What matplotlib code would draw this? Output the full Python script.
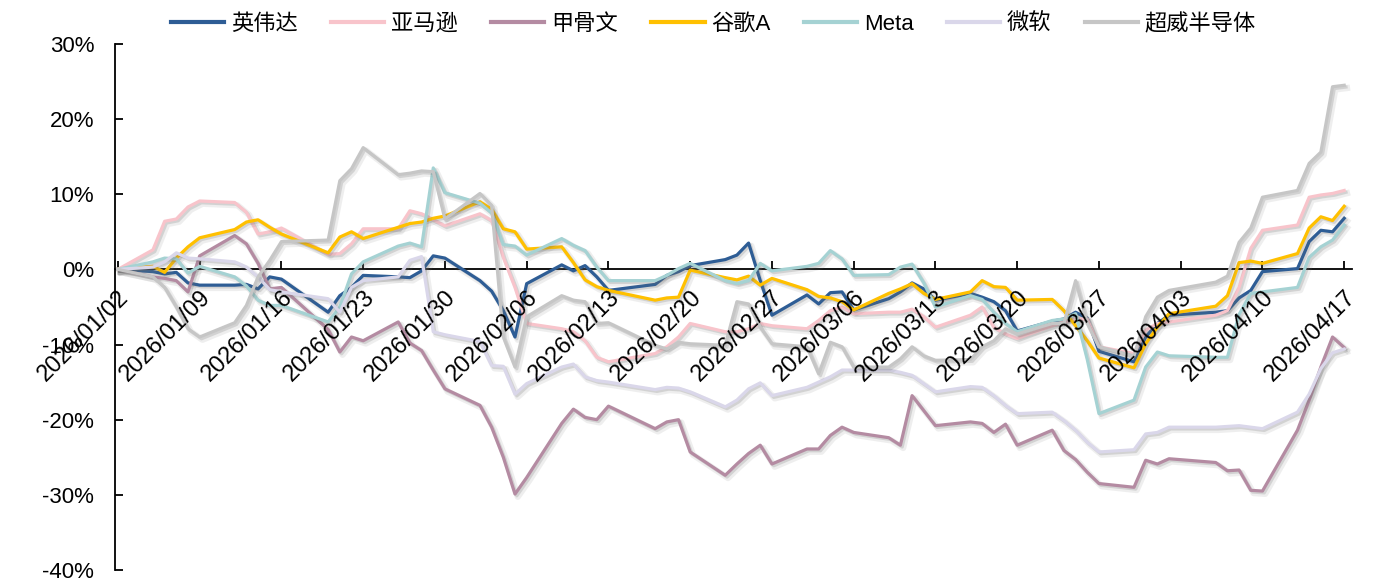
import matplotlib
matplotlib.use('Agg')
import matplotlib.pyplot as plt
import matplotlib.patheffects as pe
from matplotlib.lines import Line2D
import pandas as pd

plt.rcParams['font.family'] = ['Liberation Sans', 'Noto Sans CJK SC']

dates = [
    '2026-01-02', '2026-01-05', '2026-01-06', '2026-01-07', '2026-01-08', '2026-01-09',
    '2026-01-12', '2026-01-13', '2026-01-14', '2026-01-15', '2026-01-16',
    '2026-01-20', '2026-01-21', '2026-01-22', '2026-01-23',
    '2026-01-26', '2026-01-27', '2026-01-28', '2026-01-29', '2026-01-30',
    '2026-02-02', '2026-02-03', '2026-02-04', '2026-02-05', '2026-02-06',
    '2026-02-09', '2026-02-10', '2026-02-11', '2026-02-12', '2026-02-13',
    '2026-02-17', '2026-02-18', '2026-02-19', '2026-02-20',
    '2026-02-23', '2026-02-24', '2026-02-25', '2026-02-26', '2026-02-27',
    '2026-03-02', '2026-03-03', '2026-03-04', '2026-03-05', '2026-03-06',
    '2026-03-09', '2026-03-10', '2026-03-11', '2026-03-12', '2026-03-13',
    '2026-03-16', '2026-03-17', '2026-03-18', '2026-03-19', '2026-03-20',
    '2026-03-23', '2026-03-24', '2026-03-25', '2026-03-26', '2026-03-27',
    '2026-03-30', '2026-03-31', '2026-04-01', '2026-04-02',
    '2026-04-06', '2026-04-07', '2026-04-08', '2026-04-09', '2026-04-10',
    '2026-04-13', '2026-04-14', '2026-04-15', '2026-04-16', '2026-04-17',
]

# cumulative return, %
nvda = [0, -0.3, -0.6, -0.4, -1.8, -2.1,
        -2.1, -2.0, -2.6, -1.0, -1.3,
        -5.7, -3.5, -2.4, -0.8,
        -1.0, -1.1, -0.2, 1.8, 1.5,
        -1.5, -2.9, -5.5, -9.0, -1.9,
        0.6, -0.2, 0.5, -1.0, -2.8,
        -2.0, -0.8, -0.3, 0.5,
        1.3, 1.9, 3.5, -1.5, -6.1,
        -3.4, -4.6, -3.1, -3.0, -5.4,
        -3.9, -3.0, -1.8, -2.6, -4.1,
        -3.2, -3.7, -4.3, -5.5, -8.2,
        -6.9, -6.6, -5.7, -6.5, -10.9,
        -12.3, -9.0, -7.2, -6.1,
        -5.7, -5.5, -3.8, -2.8, -0.3,
        0.1, 3.7, 5.2, 5.0, 6.8]
amzn = [0, 2.6, 6.4, 6.7, 8.3, 9.1,
        8.9, 7.6, 4.7, 5.0, 5.5,
        2.0, 2.1, 3.4, 5.4,
        5.4, 7.8, 7.4, 6.6, 5.8,
        7.4, 6.5, 1.6, -2.4, -7.2,
        -7.9, -8.3, -9.5, -11.7, -12.3,
        -11.2, -10.3, -9.0, -7.2,
        -8.3, -8.3, -7.9, -7.2, -7.5,
        -7.9, -6.8, -5.5, -5.0, -5.9,
        -5.7, -5.7, -5.3, -6.3, -7.7,
        -6.1, -5.0, -7.7, -8.6, -9.2,
        -7.5, -7.0, -6.6, -6.6, -10.3,
        -11.2, -8.1, -7.2, -7.0,
        -6.1, -5.5, -2.4, 2.8, 5.2,
        5.9, 9.6, 9.9, 10.1, 10.5]
orcl = [0, -1.0, -1.2, -1.5, -3.0, 1.8,
        4.5, 3.4, 0.8, -2.6, -2.4,
        -8.0, -11.0, -9.0, -9.5,
        -7.0, -9.8, -10.8, -13.4, -15.9,
        -18.1, -21.0, -25.0, -29.9, -27.7,
        -20.5, -18.6, -19.7, -20.0, -18.2,
        -21.2, -20.3, -20.0, -24.3,
        -27.4, -25.9, -24.5, -23.4, -25.9,
        -23.9, -23.9, -22.1, -21.0, -21.7,
        -22.4, -23.4, -16.8, -18.8, -20.8,
        -20.3, -20.5, -21.7, -20.6, -23.4,
        -21.4, -24.1, -25.3, -27.0, -28.5,
        -29.0, -25.4, -25.9, -25.2,
        -25.7, -26.8, -26.7, -29.4, -29.5,
        -21.4, -17.4, -13.0, -9.0, -10.4]
googl = [0, 0.4, -0.4, 1.5, 3.0, 4.2,
         5.3, 6.3, 6.6, 5.6, 4.7,
         2.2, 4.3, 5.0, 4.1,
         5.6, 6.1, 6.3, 6.8, 7.1,
         9.0, 8.0, 5.4, 5.0, 2.7,
         3.0, 0.9, -1.4, -2.3, -2.8,
         -4.1, -3.8, -3.7, -0.1,
         -1.1, -1.4, -0.9, -2.1, -1.2,
         -2.7, -3.6, -3.8, -4.3, -5.4,
         -3.2, -2.6, -1.9, -3.2, -4.0,
         -3.0, -1.5, -2.3, -2.4, -4.1,
         -4.0, -5.5, -7.5, -9.5, -11.8,
         -13.1, -9.9, -7.7, -5.9,
         -4.9, -3.5, 0.9, 1.1, 0.8,
         2.1, 5.5, 7.0, 6.5, 8.4]
meta = [0, 1.0, 1.5, 1.4, -0.5, 0.4,
        -1.0, -2.2, -4.1, -4.8, -4.8,
        -7.0, -5.0, -0.6, 1.0,
        3.1, 3.5, 3.0, 13.5, 10.2,
        8.8, 7.5, 3.3, 3.1, 1.9,
        4.1, 3.2, 2.5, 0.3, -1.5,
        -1.5, -0.8, 0.1, 0.8,
        -1.5, -1.9, -1.5, 0.8, -0.2,
        0.4, 0.8, 2.5, 1.4, -0.8,
        -0.7, 0.3, 0.7, -1.8, -5.0,
        -3.5, -4.0, -5.7, -7.2, -8.3,
        -6.8, -6.6, -5.9, -12.0, -19.2,
        -17.4, -13.0, -11.0, -11.5,
        -11.7, -11.7, -6.0, -3.2, -3.0,
        -2.4, 1.6, 3.0, 3.9, 5.9]
msft = [0, 0.3, 1.0, 2.2, 1.5, 1.4,
        1.0, 0.3, -1.0, -2.7, -3.0,
        -3.9, -5.7, -2.4, -1.5,
        -1.0, 1.2, 1.7, -8.3, -8.7,
        -9.6, -12.8, -12.9, -16.6, -15.2,
        -13.0, -12.6, -14.3, -14.8, -15.0,
        -16.0, -15.7, -15.8, -16.3,
        -18.3, -17.4, -15.9, -15.1, -16.8,
        -15.7, -15.0, -14.3, -13.4, -13.4,
        -13.4, -13.7, -14.1, -15.2, -16.3,
        -15.6, -15.7, -16.8, -18.1, -19.2,
        -19.0, -20.1, -21.4, -23.0, -24.3,
        -24.0, -21.9, -21.7, -21.0,
        -21.0, -20.9, -20.8, -21.0, -21.2,
        -19.0, -16.6, -13.2, -11.1, -10.6]
amd = [0, -1.0, -2.4, -5.0, -7.9, -9.0,
       -7.1, -4.8, -1.0, 1.2, 3.7,
       3.9, 11.8, 13.4, 16.2,
       12.6, 12.8, 13.1, 13.0, 6.7,
       10.1, 8.5, -9.0, -13.0, -6.3,
       -3.5, -4.1, -4.3, -7.2, -7.1,
       -10.1, -10.6, -9.7, -9.9,
       -10.1, -4.3, -4.6, -7.7, -9.9,
       -10.3, -13.9, -9.7, -10.3, -13.0,
       -13.0, -11.9, -10.3, -11.5, -12.1,
       -12.0, -10.3, -9.5, -7.9, -8.6,
       -7.2, -7.2, -1.5, -7.2, -10.3,
       -11.5, -6.3, -3.7, -2.8,
       -1.7, -0.9, 3.6, 5.5, 9.6,
       10.5, 14.1, 15.6, 24.3, 24.5]

names = ['英伟达', '亚马逊', '甲骨文', '谷歌A', 'Meta', '微软', '超威半导体']
series = [nvda, amzn, orcl, googl, meta, msft, amd]
colors = ['#2E5D95', '#F8C4CB', '#B48BA2', '#FFC000', '#A5D2D3', '#DAD7EA', '#C6C6C6']

yticks = [-40, -30, -20, -10, 0, 10, 20, 30]

x = pd.to_datetime(dates)

fig = plt.figure(figsize=(13.99, 5.81), dpi=100)
ax = fig.add_axes([0.0822, 0.019, 0.8842, 0.9054])

# soft excel-like shadow under every line
shadow = [pe.SimpleLineShadow(offset=(2, -2), shadow_color='#777777', alpha=0.12, linewidth=4.5),
          pe.SimpleLineShadow(offset=(1.3, -1.3), shadow_color='#666666', alpha=0.2),
          pe.Normal()]
for name, vals, c in zip(names, series, colors):
    ax.plot(x, vals, color=c, lw=2.3, path_effects=shadow, zorder=3)

ax.set_ylim(-40, 30)
ax.set_yticks(yticks)
ax.set_yticklabels([f'{v}%' for v in yticks])
ax.set_xlim(x[0] - pd.Timedelta(hours=6), x[-1] + pd.Timedelta(hours=16))

for s in ['top', 'right']:
    ax.spines[s].set_visible(False)
ax.spines['bottom'].set_position(('data', 0))
ax.spines['bottom'].set_linewidth(1.3)
ax.spines['left'].set_linewidth(1.3)

tick_days = pd.date_range(x[0], x[-1], freq='7D')
ax.set_xticks(tick_days)
ax.set_xticklabels([])
ax.tick_params(axis='x', direction='in', length=6, width=1.3)
ax.tick_params(axis='y', direction='in', length=6, width=1.3, labelsize=16, pad=15)

for d in tick_days:
    ax.annotate(d.strftime('%Y/%m/%d'), xy=(d, 0), xycoords='data',
                xytext=(0, -12), textcoords='offset points',
                rotation=45, rotation_mode='anchor', ha='right', va='top',
                fontsize=17, annotation_clip=False)

handles = [Line2D([0], [0], color=c, lw=3) for c in colors]
fig.legend(handles, names, loc='center', bbox_to_anchor=(0.51, 0.958), ncol=7,
           frameon=False, fontsize=16, handlelength=2.4, handletextpad=0.3,
           columnspacing=1.5)

fig.savefig('out.png', dpi=100)
